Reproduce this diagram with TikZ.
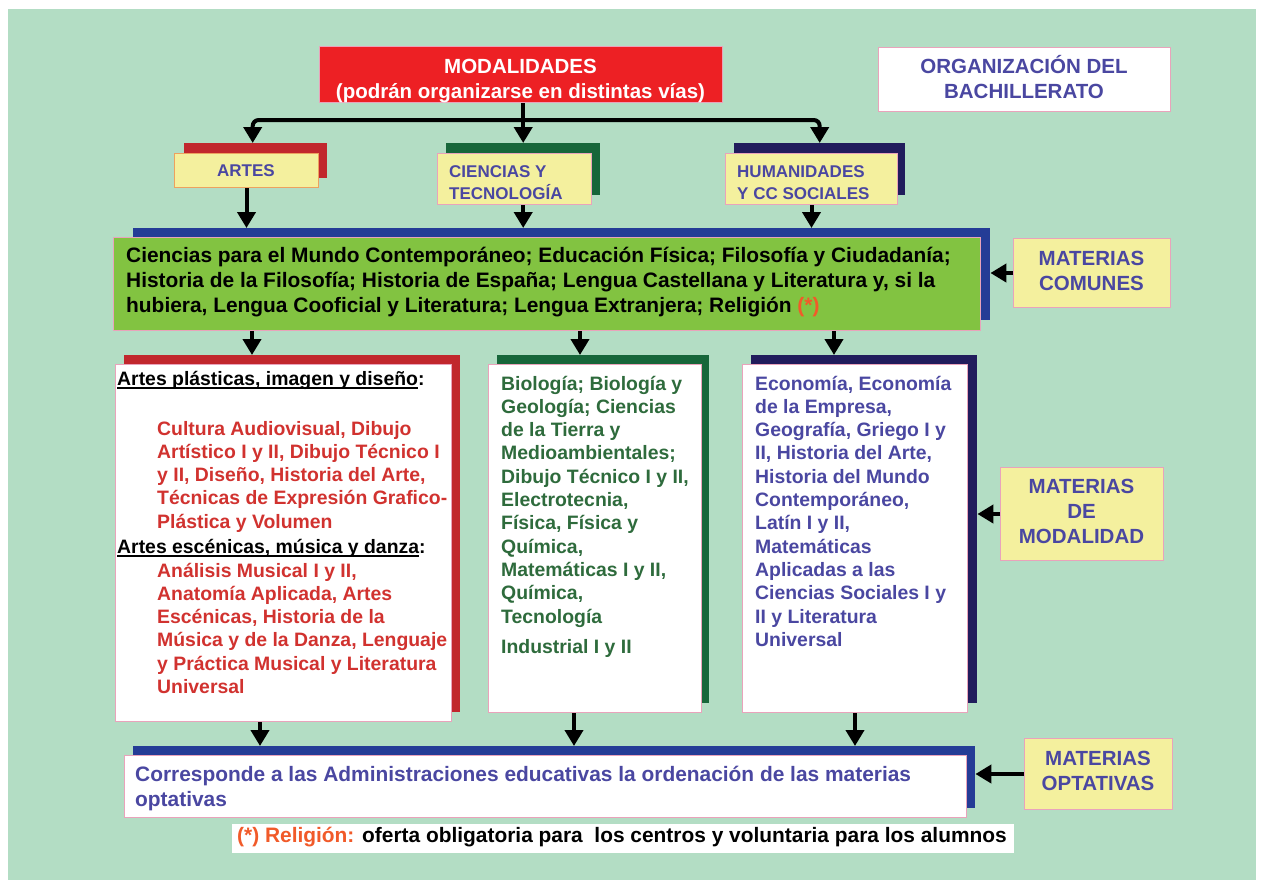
\documentclass[tikz,border=0pt]{standalone}
\usepackage{fontspec}
\setmainfont{Liberation Sans}
\usetikzlibrary{arrows.meta,calc}
\newsavebox{\myulbox}
\newcommand{\myul}[1]{\sbox{\myulbox}{#1}\rlap{\rule[-3.5pt]{\wd\myulbox}{1.3pt}}\usebox{\myulbox}}
\definecolor{bg}{HTML}{B3DDC4}
\definecolor{modred}{HTML}{ED2024}
\definecolor{shred}{HTML}{C1272D}
\definecolor{shgreen}{HTML}{17663A}
\definecolor{shnavy}{HTML}{211C5C}
\definecolor{shblue}{HTML}{243C96}
\definecolor{lime}{HTML}{82C341}
\definecolor{yel}{HTML}{F4F09E}
\definecolor{pinkb}{HTML}{E9A3BB}
\definecolor{orb}{HTML}{EDA15F}
\definecolor{bluet}{HTML}{4A47A1}
\definecolor{redt}{HTML}{D1322F}
\definecolor{greent}{HTML}{2E6B3C}
\definecolor{orng}{HTML}{F15A29}
\newcommand{\hfont}{\fontsize{20.5}{25}\selectfont\bfseries}
\newcommand{\mfont}{\fontsize{17}{22}\selectfont\bfseries}
\newcommand{\cfont}{\fontsize{19.4}{23.3}\selectfont\bfseries}
\newcommand{\gfont}{\fontsize{20.9}{25.3}\selectfont\bfseries}
\begin{document}
\begin{tikzpicture}[x=1pt,y=-1pt,
  box/.style={draw=pinkb, line width=1pt, inner sep=0pt, anchor=north west, fill=#1},
  shad/.style={draw=none, inner sep=0pt, anchor=north west, fill=#1},
  txt/.style={inner sep=0pt, anchor=base west, align=left},
  ctxt/.style={inner sep=0pt, anchor=base, align=center},
  arr/.style={line width=4pt, -{Triangle[width=18pt,length=16pt]}}]
\useasboundingbox (0,0) rectangle (1262,886);
\fill[white] (0,0) rectangle (1262,886);
\fill[bg] (8,9) rectangle (1256,880);

% boxes
\node[box=modred, minimum width=403pt, minimum height=56pt] (modal) at (319,46) {};
\node[box=white, minimum width=292pt, minimum height=64pt] (org) at (878,47) {};

\node[shad=shred, minimum width=143pt, minimum height=35pt] (artesS) at (184,143) {};
\node[box=yel, draw=orb, minimum width=144pt, minimum height=34pt] (artes) at (174,153) {};
\node[shad=shgreen, minimum width=154pt, minimum height=52pt] (cytS) at (446,143) {};
\node[box=yel, minimum width=154pt, minimum height=51pt] (cyt) at (437,153) {};
\node[shad=shnavy, minimum width=171pt, minimum height=52pt] (humS) at (734,143) {};
\node[box=yel, minimum width=172pt, minimum height=51pt] (hum) at (725,153) {};

\node[shad=shblue, minimum width=857pt, minimum height=92pt] (comS) at (133,228) {};
\node[box=lime, minimum width=867pt, minimum height=93pt] (com) at (113,237) {};
\node[box=yel, minimum width=157pt, minimum height=69pt] (matcom) at (1013,238) {};

\node[shad=shred, minimum width=336pt, minimum height=357pt] (lcS) at (124,355) {};
\node[box=white, minimum width=336pt, minimum height=357pt] (lc) at (115,364) {};
\node[shad=shgreen, minimum width=212pt, minimum height=348pt] (mcS) at (497,355) {};
\node[box=white, minimum width=213pt, minimum height=348pt] (mc) at (488,364) {};
\node[shad=shnavy, minimum width=226pt, minimum height=348pt] (rcS) at (751,355) {};
\node[box=white, minimum width=225pt, minimum height=348pt] (rc) at (742,364) {};
\node[box=yel, minimum width=163pt, minimum height=93pt] (matmod) at (1000,467) {};

\node[shad=shblue, minimum width=842pt, minimum height=62pt] (optS) at (133,746) {};
\node[box=white, minimum width=842pt, minimum height=62pt] (opt) at (124,755) {};
\node[box=yel, minimum width=148pt, minimum height=71pt] (matopt) at (1024,738) {};
\node[shad=white, minimum width=782pt, minimum height=29pt] (fn) at (232,824) {};

% texts (base anchor = baseline of the last line)
\node[ctxt, text=white, font=\hfont] (tmodal) at (520.5,98) {MODALIDADES\\(podrán organizarse en distintas vías)};
\node[ctxt, text=bluet, font=\hfont] (torg) at (1024,98) {ORGANIZACIÓN DEL\\BACHILLERATO};
\node[ctxt, text=bluet, font=\mfont] (tartes) at (246,176) {ARTES};
\node[txt, text=bluet, font=\mfont] (tcyt) at (449,199) {CIENCIAS Y\\TECNOLOGÍA};
\node[txt, text=bluet, font=\mfont] (thum) at (737,199) {HUMANIDADES\\Y CC SOCIALES};
\node[txt, text=black, font=\gfont] (tcom) at (126,312.6) {Ciencias para el Mundo Contemporáneo; Educación Física; Filosofía y Ciudadanía;\\Historia de la Filosofía; Historia de España; Lengua Castellana y Literatura y, si la\\hubiera, Lengua Cooficial y Literatura; Lengua Extranjera; Religión {\color{orng}(*)}};
\node[ctxt, text=bluet, font=\hfont] (tmatcom) at (1091.5,290) {MATERIAS\\COMUNES};

\node[txt, text=black, font=\cfont] (tlh1) at (117,385) {\myul{Artes plásticas, imagen y diseño}:};
\node[txt, text=redt, font=\cfont] (tl1) at (157,528.2) {Cultura Audiovisual, Dibujo\\Artístico I y II, Dibujo Técnico I\\y II, Diseño, Historia del Arte,\\Técnicas de Expresión Grafico-\\Plástica y Volumen};
\node[txt, text=black, font=\cfont] (tlh2) at (117,553) {\myul{Artes escénicas, música y danza}:};
\node[txt, text=redt, font=\cfont] (tl2) at (157,693.5) {Análisis Musical I y II,\\Anatomía Aplicada, Artes\\Escénicas, Historia de la\\Música y de la Danza, Lenguaje\\y Práctica Musical y Literatura\\Universal};

\node[txt, text=greent, font=\cfont] (tm1) at (501,623) {Biología; Biología y\\Geología; Ciencias\\de la Tierra y\\Medioambientales;\\Dibujo Técnico I y II,\\Electrotecnia,\\Física, Física y\\Química,\\Matemáticas I y II,\\Química,\\Tecnología};
\node[txt, text=greent, font=\cfont] (tm2) at (501,653) {Industrial I y II};

\node[txt, text=bluet, font=\cfont] (tr1) at (755,646.3) {Economía, Economía\\de la Empresa,\\Geografía, Griego I y\\II, Historia del Arte,\\Historia del Mundo\\Contemporáneo,\\Latín I y II,\\Matemáticas\\Aplicadas a las\\Ciencias Sociales I y\\II y Literatura\\Universal};
\node[ctxt, text=bluet, font=\hfont] (tmatmod) at (1081.5,543) {MATERIAS\\DE\\MODALIDAD};

\node[txt, text=bluet, font=\gfont] (topt) at (135,806.3) {Corresponde a las Administraciones educativas la ordenación de las materias\\optativas};
\node[ctxt, text=bluet, font=\hfont] (tmatopt) at (1098,790) {MATERIAS\\OPTATIVAS};
\node[txt, text=black, font=\gfont] (tfn) at (237,842) {{\color{orng}(*) Religión:} oferta obligatoria para\ \ los centros y voluntaria para los alumnos};

% connectors
\path (modal.south) ++(0,17) coordinate (br);
\draw[arr] (cytS.north |- modal.south) -- (cytS.north);
\draw[arr, rounded corners=6pt] (cytS.north |- br) -| ([xshift=-3pt]artesS.north);
\draw[arr, rounded corners=6pt] (cytS.north |- br) -| (humS.north);

\draw[arr] (artes.south) -- (artes.south |- comS.north);
\draw[arr] (cytS.north |- cyt.south) -- (cytS.north |- comS.north);
\draw[arr] (hum.south) -- (hum.south |- comS.north);

\draw[arr] ([xshift=139pt]com.south west) -- ([xshift=128pt]lcS.north west);
\draw[arr] ([xshift=467pt]com.south west) -- ([xshift=83pt]mcS.north west);
\draw[arr] ([xshift=721pt]com.south west) -- ([xshift=83pt]rcS.north west);

\draw[arr] ([xshift=145pt]lc.south west) -- ([xshift=127pt]optS.north west);
\draw[arr] ([xshift=86pt]mc.south west) -- ([xshift=441pt]optS.north west);
\draw[arr] ([xshift=113pt]rc.south west) -- ([xshift=722pt]optS.north west);

\draw[arr] (matcom.west) -- (matcom.west -| comS.east);
\draw[arr] (matmod.west) -- (matmod.west -| rcS.east);
\draw[arr] (matopt.west) -- (matopt.west -| optS.east);
\end{tikzpicture}
\end{document}
